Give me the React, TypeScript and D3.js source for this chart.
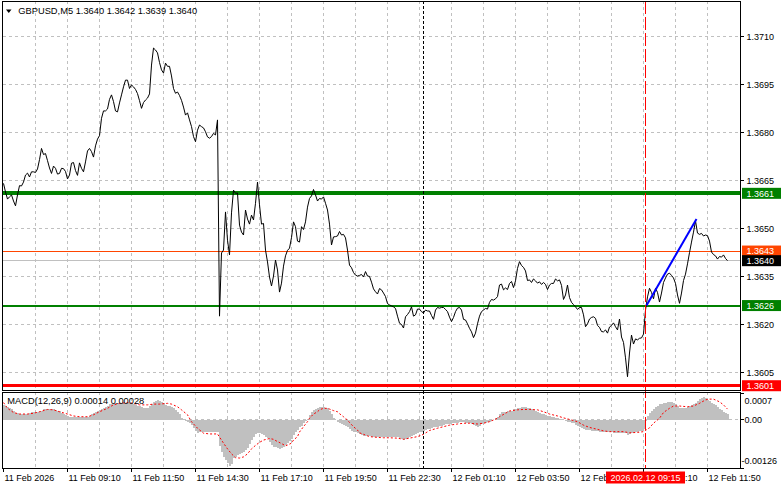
import React from 'react';
import * as d3 from 'd3';

const symbolTitle = 'GBPUSD,M5  1.3640 1.3642 1.3639 1.3640';
const macdLabel = 'MACD(12,26,9) 0.00014 0.00028';

const closes = [
1.36641,1.36614,1.36592,1.36599,1.36605,1.36586,1.36571,1.36605,1.36634,1.36633,
1.36645,1.36667,1.36673,1.36661,1.36677,1.36677,1.36675,1.36686,1.36715,1.36750,
1.36731,1.36734,1.36712,1.36689,1.36672,1.36695,1.36688,1.36670,1.36672,1.36688,
1.36687,1.36678,1.36655,1.36667,1.36704,1.36706,1.36681,1.36666,1.36705,1.36688,
1.36677,1.36708,1.36742,1.36750,1.36740,1.36723,1.36758,1.36779,1.36790,1.36844,
1.36867,1.36867,1.36873,1.36903,1.36917,1.36896,1.36867,1.36864,1.36892,1.36917,
1.36942,1.36963,1.36963,1.36937,1.36948,1.36942,1.36934,1.36921,1.36899,1.36875,
1.36893,1.36901,1.36907,1.36920,1.37010,1.37063,1.37057,1.37048,1.37018,1.36995,
1.36985,1.37016,1.37006,1.37006,1.36976,1.36937,1.36922,1.36926,1.36915,1.36900,
1.36879,1.36854,1.36861,1.36839,1.36818,1.36787,1.36771,1.36807,1.36823,1.36818,
1.36814,1.36802,1.36786,1.36782,1.36787,1.36797,1.36792,1.36839,1.36227,1.36424,
1.36433,1.36552,1.36464,1.36418,1.36549,1.36620,1.36610,1.36611,1.36511,1.36489,
1.36480,1.36558,1.36530,1.36514,1.36542,1.36527,1.36579,1.36645,1.36574,1.36514,
1.36516,1.36433,1.36396,1.36349,1.36321,1.36352,1.36402,1.36371,1.36302,1.36330,
1.36383,1.36415,1.36432,1.36439,1.36472,1.36521,1.36506,1.36461,1.36458,1.36506,
1.36497,1.36521,1.36567,1.36594,1.36602,1.36622,1.36605,1.36586,1.36594,1.36592,
1.36599,1.36579,1.36558,1.36514,1.36449,1.36474,1.36475,1.36477,1.36491,1.36480,
1.36482,1.36471,1.36433,1.36386,1.36378,1.36363,1.36355,1.36352,1.36354,1.36357,
1.36349,1.36366,1.36352,1.36351,1.36333,1.36312,1.36303,1.36296,1.36313,1.36309,
1.36299,1.36288,1.36266,1.36262,1.36259,1.36256,1.36251,1.36227,1.36205,1.36201,
1.36190,1.36225,1.36232,1.36241,1.36256,1.36227,1.36231,1.36249,1.36249,1.36241,
1.36237,1.36246,1.36243,1.36243,1.36229,1.36217,1.36246,1.36254,1.36252,1.36254,
1.36254,1.36248,1.36241,1.36224,1.36210,1.36223,1.36241,1.36252,1.36254,1.36246,
1.36217,1.36215,1.36203,1.36189,1.36178,1.36160,1.36174,1.36203,1.36227,1.36241,
1.36246,1.36251,1.36249,1.36270,1.36279,1.36277,1.36281,1.36288,1.36324,1.36327,
1.36309,1.36315,1.36310,1.36329,1.36335,1.36316,1.36337,1.36376,1.36397,1.36385,
1.36379,1.36368,1.36338,1.36340,1.36332,1.36343,1.36337,1.36330,1.36334,1.36326,
1.36332,1.36326,1.36310,1.36324,1.36329,1.36329,1.36343,1.36337,1.36340,1.36323,
1.36279,1.36293,1.36324,1.36285,1.36270,1.36263,1.36256,1.36248,1.36254,1.36254,
1.36231,1.36194,1.36203,1.36218,1.36223,1.36225,1.36220,1.36198,1.36192,1.36179,
1.36178,1.36184,1.36174,1.36193,1.36198,1.36206,1.36194,1.36184,1.36218,1.36162,
1.36145,1.36097,1.36038,1.36112,1.36168,1.36140,1.36156,1.36153,1.36158,1.36159,
1.36171,1.36246,1.36287,1.36314,1.36301,1.36281,1.36314,1.36301,1.36271,1.36299,
1.36332,1.36346,1.36358,1.36361,1.36354,1.36346,1.36329,1.36293,1.36267,1.36299,
1.36338,1.36358,1.36390,1.36425,1.36458,1.36489,1.36524,1.36486,1.36482,1.36485,
1.36477,1.36480,1.36478,1.36461,1.36427,1.36419,1.36415,1.36405,1.36413,1.36411,
1.36418,1.36407,1.36400
];

const macdMain = [
39e-5,36e-5,33e-5,31e-5,28e-5,23e-5,19e-5,18e-5,16e-5,16e-5,
16e-5,16e-5,16e-5,19e-5,21e-5,21e-5,21e-5,21e-5,22e-5,24e-5,
27e-5,27e-5,27e-5,27e-5,27e-5,27e-5,26e-5,24e-5,22e-5,19e-5,
15e-5,13e-5,10e-5,7e-5,7e-5,7e-5,7e-5,7e-5,7e-5,7e-5,
7e-5,7e-5,8e-5,11e-5,14e-5,17e-5,20e-5,22e-5,25e-5,27e-5,
30e-5,33e-5,37e-5,40e-5,41e-5,43e-5,44e-5,44e-5,45e-5,45e-5,
44e-5,44e-5,43e-5,43e-5,42e-5,40e-5,38e-5,36e-5,35e-5,33e-5,
32e-5,31e-5,30e-5,35e-5,41e-5,47e-5,50e-5,52e-5,49e-5,46e-5,
43e-5,39e-5,36e-5,35e-5,33e-5,31e-5,26e-5,21e-5,14e-5,5e-5,
-1e-5,-4e-5,-7e-5,-8e-5,-14e-5,-22e-5,-28e-5,-34e-5,-33e-5,-33e-5,
-33e-5,-33e-5,-33e-5,-33e-5,-33e-5,-32e-5,-31e-5,-31e-5,-68e-5,-85e-5,
-96e-5,-105e-5,-114e-5,-120e-5,-116e-5,-101e-5,-96e-5,-92e-5,-89e-5,-87e-5,
-83e-5,-79e-5,-74e-5,-63e-5,-53e-5,-45e-5,-38e-5,-35e-5,-35e-5,-37e-5,
-40e-5,-44e-5,-48e-5,-57e-5,-65e-5,-70e-5,-72e-5,-74e-5,-76e-5,-75e-5,
-70e-5,-66e-5,-61e-5,-55e-5,-49e-5,-40e-5,-32e-5,-27e-5,-20e-5,-15e-5,
-9e-5,-4e-5,1e-5,13e-5,20e-5,26e-5,28e-5,30e-5,33e-5,34e-5,
34e-5,32e-5,30e-5,22e-5,14e-5,4e-5,-1e-5,-5e-5,-8e-5,-10e-5,
-14e-5,-16e-5,-18e-5,-23e-5,-28e-5,-31e-5,-33e-5,-35e-5,-38e-5,-41e-5,
-42e-5,-42e-5,-42e-5,-43e-5,-44e-5,-44e-5,-44e-5,-44e-5,-44e-5,-44e-5,
-44e-5,-44e-5,-44e-5,-44e-5,-44e-5,-44e-5,-44e-5,-44e-5,-47e-5,-50e-5,
-53e-5,-50e-5,-48e-5,-45e-5,-43e-5,-40e-5,-37e-5,-35e-5,-33e-5,-31e-5,
-29e-5,-27e-5,-25e-5,-23e-5,-21e-5,-20e-5,-19e-5,-18e-5,-17e-5,-15e-5,
-14e-5,-12e-5,-11e-5,-10e-5,-9e-5,-8e-5,-8e-5,-8e-5,-7e-5,-7e-5,
-7e-5,-8e-5,-8e-5,-9e-5,-11e-5,-14e-5,-16e-5,-18e-5,-15e-5,-12e-5,
-9e-5,-8e-5,-7e-5,-5e-5,-4e-5,-1e-5,4e-5,8e-5,15e-5,20e-5,
21e-5,21e-5,22e-5,23e-5,24e-5,27e-5,29e-5,30e-5,32e-5,34e-5,
34e-5,34e-5,31e-5,30e-5,27e-5,26e-5,24e-5,21e-5,18e-5,16e-5,
14e-5,12e-5,10e-5,9e-5,8e-5,7e-5,5e-5,5e-5,3e-5,1e-5,
-1e-5,-3e-5,-5e-5,-7e-5,-8e-5,-9e-5,-13e-5,-16e-5,-19e-5,-22e-5,
-25e-5,-26e-5,-26e-5,-27e-5,-28e-5,-28e-5,-29e-5,-30e-5,-31e-5,-31e-5,
-32e-5,-32e-5,-33e-5,-33e-5,-33e-5,-34e-5,-34e-5,-34e-5,-34e-5,-34e-5,
-35e-5,-35e-5,-40e-5,-37e-5,-34e-5,-34e-5,-32e-5,-31e-5,-30e-5,-28e-5,
-25e-5,-3e-5,10e-5,18e-5,23e-5,28e-5,34e-5,37e-5,40e-5,42e-5,
43e-5,45e-5,46e-5,47e-5,47e-5,43e-5,40e-5,36e-5,32e-5,30e-5,
30e-5,32e-5,34e-5,37e-5,38e-5,41e-5,43e-5,49e-5,54e-5,58e-5,
59e-5,56e-5,53e-5,50e-5,45e-5,41e-5,39e-5,33e-5,28e-5,25e-5,
21e-5,17e-5,14e-5
];

const signalBars = [0,2,5,8,12,15,18,22,25,28,32,35,38,42,45,48,52,55,58,62,65,68,72,75,78,82,84,87,89,92,94,97,100,103,107,108,110,112,114,116,118,120,122,124,126,128,130,133,135,137,139,141,142,144,145,147,148,150,152,153,155,157,158,160,162,163,165,167,168,170,172,173,175,177,178,180,182,183,187,190,193,197,200,203,207,210,213,217,220,223,227,230,233,237,240,243,247,248,251,253,257,260,263,267,270,273,277,280,283,287,290,293,297,300,303,307,310,313,317,320,323,325,328,330,333,335,338,342,345,348,351,353,355,358,360,362];
const signalValues = [45e-5,30e-5,19e-5,15e-5,15e-5,17e-5,21e-5,27e-5,26e-5,21e-5,15e-5,10e-5,8e-5,8e-5,13e-5,21e-5,30e-5,39e-5,43e-5,45e-5,43e-5,39e-5,39e-5,41e-5,41e-5,43e-5,41e-5,34e-5,26e-5,13e-5,-5e-5,-22e-5,-35e-5,-37e-5,-37e-5,-45e-5,-61e-5,-76e-5,-89e-5,-99e-5,-100e-5,-97e-5,-89e-5,-76e-5,-67e-5,-59e-5,-53e-5,-49e-5,-51e-5,-57e-5,-62e-5,-68e-5,-66e-5,-61e-5,-53e-5,-44e-5,-32e-5,-18e-5,-5e-5,4e-5,15e-5,21e-5,26e-5,30e-5,30e-5,28e-5,24e-5,21e-5,16e-5,8e-5,-1e-5,-7e-5,-18e-5,-27e-5,-34e-5,-38e-5,-42e-5,-44e-5,-46e-5,-47e-5,-47e-5,-48e-5,-51e-5,-48e-5,-44e-5,-38e-5,-28e-5,-22e-5,-18e-5,-14e-5,-11e-5,-9e-5,-9e-5,-11e-5,-9e-5,-5e-5,4e-5,8e-5,17e-5,23e-5,26e-5,27e-5,27e-5,26e-5,21e-5,15e-5,10e-5,5e-5,1e-5,-5e-5,-14e-5,-20e-5,-25e-5,-29e-5,-31e-5,-31e-5,-31e-5,-34e-5,-33e-5,-31e-5,-21e-5,-9e-5,4e-5,19e-5,30e-5,36e-5,36e-5,34e-5,36e-5,43e-5,52e-5,54e-5,54e-5,47e-5,39e-5,28e-5];

const priceTicks = [1.3710, 1.3695, 1.3680, 1.3665, 1.3650, 1.3635, 1.3620, 1.3605];
const timeLabelBars = [0, 32, 64, 96, 128, 160, 192, 224, 256, 288, 320, 352];
const timeLabels = ['11 Feb 2026', '11 Feb 09:10', '11 Feb 11:50', '11 Feb 14:30', '11 Feb 17:10', '11 Feb 19:50', '11 Feb 22:30', '12 Feb 01:10', '12 Feb 03:50', '12 Feb 06:30', '12 Feb 09:10', '12 Feb 11:50'];
const levelPrices = [1.3661, 1.3626, 1.3601];
const askPrice = 1.3643;
const bidPrice = 1.3640;
const trendBars = [321.5, 346.5];
const trendPrices = [1.3626, 1.3653];
const daySeparatorBar = 210;
const crosshairBar = 321;
const crosshairLabel = '2026.02.12 09:15';
const macdTicks = [0.0007, 0, -0.00126];
const macdTickLabels = ['0.0007', '0.00', '-0.00126'];

const FONT = "'Liberation Sans', Arial, sans-serif";

export default function App() {
  const W = 781, H = 489;
  const left = 3, right = 740, mainTop = 1, mainBottom = 390, macdTop = 392, macdBottom = 468;
  const x = d3.scaleLinear().domain([0, 1]).range([3.5, 5.5]);
  const y = d3.scaleLinear().domain([1.3605, 1.3710]).range([372.9, 36.2]);
  const ym = d3.scaleLinear().domain([-0.00126, 0.0007]).range([468, 393]);
  const px = (v: number) => Math.round(v - 0.5) + 0.5;

  const priceLine = d3.line<number>().x((_, i) => x(i)).y(d => y(d))(closes) || '';
  const signalLine = d3.line<number>().x((_, i) => x(signalBars[i])).y(d => ym(d))(signalValues) || '';

  const gridBars = d3.range(16, 368, 16);
  const gridColor = '#c0c0c0';
  const levelColors = ['#008000', '#008000', '#ff0000'];
  const levelWidths = [4, 2, 3];
  const zeroY = ym(0);

  const boxLabel = (v: number, color: string, key: string) => {
    const cy = y(v);
    return (
      <g key={key}>
        <rect x={742} y={cy - 5.5} width={39} height={11} fill={color} />
        <text x={746.5} y={cy + 3.3} fill="#fff" fontSize={9} fontFamily={FONT}>{v.toFixed(4)}</text>
      </g>
    );
  };

  return (
    <div style={{ position: 'absolute', left: 0, top: 0 }}>
      <svg width={W} height={H} viewBox={`0 0 ${W} ${H}`} style={{ display: 'block', background: '#fff' }}>
        <rect x={0} y={0} width={W} height={H} fill="#fff" />
        <g shapeRendering="crispEdges">
          {priceTicks.map(t => (
            <line key={'hg' + t} x1={left} x2={right} y1={px(y(t))} y2={px(y(t))} stroke={gridColor} strokeDasharray="3,3" />
          ))}
          {gridBars.map(b => (
            <g key={'vg' + b}>
              <line x1={x(b)} x2={x(b)} y1={mainTop} y2={mainBottom} stroke={gridColor} strokeDasharray="3,3" />
              <line x1={x(b)} x2={x(b)} y1={macdTop} y2={macdBottom} stroke={gridColor} strokeDasharray="3,3" />
            </g>
          ))}
          <line x1={left} x2={right} y1={px(zeroY)} y2={px(zeroY)} stroke={gridColor} strokeDasharray="3,3" />
          {macdMain.map((v, i) => {
            const y0 = zeroY, y1 = ym(v);
            return <rect key={'h' + i} x={x(i) - 0.5} y={Math.min(y0, y1)} width={2} height={Math.max(0.5, Math.abs(y1 - y0))} fill="#c0c0c0" />;
          })}
        </g>
        <path d={signalLine} fill="none" stroke="#ff0000" strokeWidth={1} strokeDasharray="2,2" />

        <g shapeRendering="crispEdges">
          {levelPrices.map((p, i) => (
            <line key={'lv' + i} x1={left} x2={right} y1={y(p)} y2={y(p)} stroke={levelColors[i]} strokeWidth={levelWidths[i]} />
          ))}
          <line x1={left} x2={right} y1={px(y(askPrice))} y2={px(y(askPrice))} stroke="#ff4500" />
          <line x1={left} x2={right} y1={px(y(bidPrice))} y2={px(y(bidPrice))} stroke="#c0c0c0" />
          <line x1={x(daySeparatorBar)} x2={x(daySeparatorBar)} y1={mainTop} y2={macdBottom} stroke="#000" strokeDasharray="3,2" />
        </g>

        <path d={priceLine} fill="none" stroke="#000" strokeWidth={1} strokeLinejoin="miter" />
        <line x1={x(trendBars[0])} y1={y(trendPrices[0])} x2={x(trendBars[1])} y2={y(trendPrices[1])} stroke="#0000ff" strokeWidth={2} />

        <g shapeRendering="crispEdges">
          <line x1={x(crosshairBar)} x2={x(crosshairBar)} y1={mainTop} y2={macdBottom} stroke="#ff0000" strokeDasharray="13,3" />
          <line x1={2.5} x2={2.5} y1={mainTop} y2={mainBottom + 0.5} stroke="#000" />
          <line x1={2.5} x2={2.5} y1={macdTop} y2={macdBottom + 0.5} stroke="#000" />
          <line x1={right + 0.5} x2={right + 0.5} y1={mainTop} y2={mainBottom + 0.5} stroke="#000" />
          <line x1={right + 0.5} x2={right + 0.5} y1={macdTop} y2={macdBottom + 0.5} stroke="#000" />
          <line x1={2} x2={right + 1} y1={1.5} y2={1.5} stroke="#000" />
          <line x1={2} x2={right + 1} y1={mainBottom + 0.5} y2={mainBottom + 0.5} stroke="#000" />
          <line x1={2} x2={right + 1} y1={macdTop + 0.5} y2={macdTop + 0.5} stroke="#000" />
          <line x1={2} x2={right + 1} y1={macdBottom + 0.5} y2={macdBottom + 0.5} stroke="#000" />
          {priceTicks.map(t => (
            <line key={'pt' + t} x1={right} x2={right + 4} y1={px(y(t))} y2={px(y(t))} stroke="#000" />
          ))}
          {macdTicks.map(t => (
            <line key={'mt' + t} x1={right} x2={right + 4} y1={px(ym(t))} y2={px(ym(t))} stroke="#000" />
          ))}
          {timeLabelBars.map(b => (
            <line key={'tt' + b} x1={x(b)} x2={x(b)} y1={macdBottom} y2={macdBottom + 4} stroke="#000" />
          ))}
        </g>

        <path d="M6,9.5 L11.5,9.5 L8.75,13 Z" fill="#000" />
        <text x={18.3} y={14} fontSize={9.3} fontFamily={FONT} fill="#000">{symbolTitle}</text>
        <text x={7.3} y={404} fontSize={9.3} fontFamily={FONT} fill="#000">{macdLabel}</text>

        {priceTicks.map(t => (
          <text key={'pl' + t} x={746.5} y={y(t) + 3.3} fontSize={9} fontFamily={FONT} fill="#000">{t.toFixed(4)}</text>
        ))}
        {boxLabel(levelPrices[0], '#008000', 'b1')}
        {boxLabel(askPrice, '#ff4500', 'b2')}
        {boxLabel(bidPrice, '#000000', 'b3')}
        {boxLabel(levelPrices[1], '#008000', 'b4')}
        {boxLabel(levelPrices[2], '#ff0000', 'b5')}

        <text x={744.5} y={404} fontSize={9} fontFamily={FONT} fill="#000">{macdTickLabels[0]}</text>
        <text x={744.5} y={ym(macdTicks[1]) + 3.5} fontSize={9} fontFamily={FONT} fill="#000">{macdTickLabels[1]}</text>
        <text x={741.5} y={464.3} fontSize={9} fontFamily={FONT} fill="#000">{macdTickLabels[2]}</text>

        {timeLabelBars.map((b, i) => (
          <text key={'tl' + b} x={x(b) + 1} y={481} fontSize={9} fontFamily={FONT} fill="#000">{timeLabels[i]}</text>
        ))}
        <rect x={606} y={471.5} width={79} height={12} fill="#ff0000" />
        <text x={645.5} y={481} fontSize={9} fontFamily={FONT} fill="#fff" textAnchor="middle">{crosshairLabel}</text>
      </svg>
    </div>
  );
}
